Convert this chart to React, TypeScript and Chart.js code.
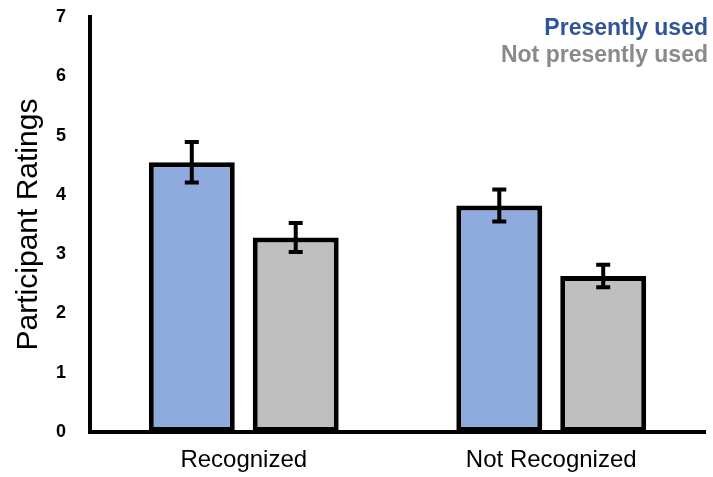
import React, { useEffect, useRef } from "react";
import { Chart, registerables } from "chart.js";

Chart.register(...registerables);

const categories = ["Recognized", "Not Recognized"];
const seriesNames = ["Presently used", "Not presently used"];
const presentlyUsed = [4.55, 3.82];
const presentlyUsedErr = [0.34, 0.27];
const notPresentlyUsed = [3.28, 2.63];
const notPresentlyUsedErr = [0.245, 0.19];
const yMin = 0;
const yMax = 7;
const yStep = 1;

const fillColors = ["#8FAADC", "#BFBFBF"];
const legendColors = ["#2F5597", "#8A8A8A"];

const errorBarPlugin = {
  id: "errorBars",
  afterDatasetsDraw(chart: any) {
    const ctx = chart.ctx;
    const yScale = chart.scales.y;
    chart.data.datasets.forEach((ds: any, di: number) => {
      const meta = chart.getDatasetMeta(di);
      const errs: number[] = ds.errors || [];
      meta.data.forEach((bar: any, i: number) => {
        const v = ds.data[i];
        const e = errs[i] || 0;
        const x = bar.x;
        const yTop = yScale.getPixelForValue(v + e);
        const yBot = yScale.getPixelForValue(v - e);
        ctx.save();
        ctx.strokeStyle = "#000";
        ctx.lineWidth = 4;
        ctx.lineCap = "butt";
        ctx.beginPath();
        ctx.moveTo(x, yTop);
        ctx.lineTo(x, yBot);
        ctx.moveTo(x - 7, yTop);
        ctx.lineTo(x + 7, yTop);
        ctx.moveTo(x - 7, yBot);
        ctx.lineTo(x + 7, yBot);
        ctx.stroke();
        ctx.restore();
      });
    });
  },
};

const legendPlugin = {
  id: "textLegend",
  afterDraw(chart: any) {
    const ctx = chart.ctx;
    ctx.save();
    ctx.font = "bold 23px 'Liberation Sans', Arial, sans-serif";
    ctx.textAlign = "right";
    ctx.textBaseline = "middle";
    const ys = [29, 56];
    seriesNames.forEach((name, i) => {
      ctx.fillStyle = legendColors[i];
      ctx.fillText(name, 708, ys[i]);
    });
    ctx.restore();
  },
};

export default function App() {
  const ref = useRef<HTMLCanvasElement | null>(null);

  useEffect(() => {
    if (!ref.current) return;
    const chart = new Chart(ref.current, {
      type: "bar",
      data: {
        labels: categories,
        datasets: [
          {
            label: seriesNames[0],
            data: presentlyUsed,
            errors: presentlyUsedErr,
            backgroundColor: fillColors[0],
            borderColor: "#000",
            borderWidth: 5,
            borderSkipped: false,
          } as any,
          {
            label: seriesNames[1],
            data: notPresentlyUsed,
            errors: notPresentlyUsedErr,
            backgroundColor: fillColors[1],
            borderColor: "#000",
            borderWidth: 5,
            borderSkipped: false,
          } as any,
        ],
      },
      options: {
        responsive: false,
        animation: false,
        devicePixelRatio: 1,
        categoryPercentage: 0.676,
        barPercentage: 0.827,
        layout: { padding: { left: 0, right: 8, top: 17, bottom: 0 } },
        plugins: {
          legend: { display: false },
          tooltip: { enabled: false },
        },
        scales: {
          x: {
            grid: { display: false, drawTicks: false },
            border: { display: true, color: "#000", width: 4 },
            ticks: {
              color: "#000",
              padding: 14,
              font: { family: "'Liberation Sans', Arial, sans-serif", size: 24 },
            },
            afterFit: (s: any) => {
              s.height = 45;
            },
          },
          y: {
            min: yMin,
            max: yMax,
            grid: { display: false, drawTicks: false },
            border: { display: true, color: "#000", width: 4 },
            ticks: {
              stepSize: yStep,
              color: "#000",
              padding: 24,
              font: { family: "'Liberation Sans', Arial, sans-serif", size: 18, weight: "bold" },
            },
            title: {
              display: true,
              text: "Participant Ratings",
              color: "#000",
              padding: { top: 11, bottom: 0 },
              font: { family: "'Liberation Sans', Arial, sans-serif", size: 30 },
            },
            afterFit: (s: any) => {
              s.width = 90;
              s.paddingTop = 0;
              s.paddingBottom = 0;
            },
          },
        },
      } as any,
      plugins: [errorBarPlugin, legendPlugin],
    });
    return () => chart.destroy();
  }, []);

  return (
    <div style={{ position: "fixed", left: 0, top: 0, width: 713, height: 477, background: "#fff" }}>
      <canvas ref={ref} width={713} height={477} />
    </div>
  );
}
